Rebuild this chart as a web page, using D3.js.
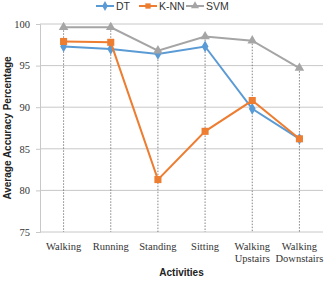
<html>
<head>
<script src="https://d3js.org/d3.v7.min.js"></script>
<style>
body { margin: 0; background: #fff; }
</style>
</head>
<body>
<div id="chart"></div>
<script>
const activities = ["Walking", "Running", "Standing", "Sitting", "Walking Upstairs", "Walking Downstairs"];
const dtValues = [97.3, 97.0, 96.4, 97.3, 89.8, 86.2];
const knnValues = [97.9, 97.8, 81.3, 87.1, 90.8, 86.2];
const svmValues = [99.6, 99.6, 96.8, 98.5, 98.0, 94.7];
const yTicks = [75, 80, 85, 90, 95, 100];

const series = [
  {name: "DT", values: dtValues, color: "#5b9bd5", symbol: d3.symbolDiamond},
  {name: "K-NN", values: knnValues, color: "#ed7d31", symbol: d3.symbolSquare},
  {name: "SVM", values: svmValues, color: "#a5a5a5", symbol: d3.symbolTriangle}
];

const W = 330, H = 282;
const margin = {top: 24, right: 7, bottom: 50, left: 40};
const width = W - margin.left - margin.right,
      height = H - margin.top - margin.bottom;

const svg = d3.select("#chart").append("svg")
    .attr("width", W).attr("height", H);
const g = svg.append("g")
    .attr("transform", "translate(" + margin.left + "," + margin.top + ")");

const x = d3.scaleBand().domain(activities).range([0, width]);
const y = d3.scaleLinear().domain([75, 100]).range([height, 0]);

// gridlines
g.append("g").selectAll("line").data(yTicks).enter().append("line")
    .attr("x1", 0).attr("x2", width)
    .attr("y1", d => y(d)).attr("y2", d => y(d))
    .attr("stroke", "#c8c8c8").attr("stroke-width", 1);

// left axis
const yAxis = g.append("g")
    .call(d3.axisLeft(y).tickValues(yTicks).tickSize(4).tickPadding(6));
yAxis.select(".domain").attr("stroke", "#c8c8c8");
yAxis.selectAll(".tick line").attr("stroke", "#c8c8c8");
yAxis.selectAll("text")
    .attr("font-family", "Liberation Serif, Times New Roman, serif")
    .attr("font-size", 10.5).attr("fill", "#333");

// drop lines
g.append("g").selectAll("line").data(activities).enter().append("line")
    .attr("x1", d => x(d) + x.bandwidth() / 2)
    .attr("x2", d => x(d) + x.bandwidth() / 2)
    .attr("y1", (d, i) => y(d3.max(series, s => s.values[i])))
    .attr("y2", height)
    .attr("stroke", "#666").attr("stroke-width", 0.8)
    .attr("stroke-dasharray", "1.5,1.5");

// x labels
const xl = g.append("g").selectAll("text").data(activities).enter().append("text")
    .attr("x", d => x(d) + x.bandwidth() / 2)
    .attr("y", height + 18)
    .attr("text-anchor", "middle")
    .attr("font-family", "Liberation Serif, Times New Roman, serif")
    .attr("font-size", 10.5).attr("fill", "#333");
xl.each(function(d) {
  const words = d.split(" ");
  const t = d3.select(this);
  words.forEach((w, k) => {
    t.append("tspan").attr("x", x(d) + x.bandwidth() / 2)
      .attr("dy", k === 0 ? 0 : 12).text(w);
  });
});

// lines and markers
const line = d3.line()
    .x((d, i) => x(activities[i]) + x.bandwidth() / 2)
    .y(d => y(d));

series.forEach(s => {
  g.append("path").datum(s.values)
    .attr("d", line)
    .attr("fill", "none").attr("stroke", s.color).attr("stroke-width", 2);
  g.append("g").selectAll("path").data(s.values).enter().append("path")
    .attr("d", d3.symbol().type(s.symbol).size(s.name === "K-NN" ? 50 : 40))
    .attr("transform", (d, i) => "translate(" + (x(activities[i]) + x.bandwidth() / 2) + "," + y(d) + ")")
    .attr("fill", s.color);
});

// axis titles
svg.append("text")
    .attr("transform", "translate(11," + (margin.top + height / 2) + ") rotate(-90)")
    .attr("text-anchor", "middle")
    .attr("font-family", "Liberation Sans, Arial, sans-serif")
    .attr("font-weight", "bold").attr("font-size", 10).attr("fill", "#222")
    .text("Average Accuracy Percentage");

svg.append("text")
    .attr("x", margin.left + width / 2).attr("y", 276)
    .attr("text-anchor", "middle")
    .attr("font-family", "Liberation Sans, Arial, sans-serif")
    .attr("font-weight", "bold").attr("font-size", 10).attr("fill", "#222")
    .text("Activities");

// legend
const legendX = [96, 139, 186];
const legend = svg.append("g");
series.forEach((s, i) => {
  const lg = legend.append("g").attr("transform", "translate(" + legendX[i] + ",6)");
  lg.append("line").attr("x1", 0).attr("x2", 18).attr("y1", 0).attr("y2", 0)
    .attr("stroke", s.color).attr("stroke-width", 2);
  lg.append("path").attr("d", d3.symbol().type(s.symbol).size(28))
    .attr("transform", "translate(9,0)").attr("fill", s.color);
  lg.append("text").attr("x", 20).attr("y", 4)
    .attr("font-family", "Liberation Sans, Arial, sans-serif")
    .attr("font-size", 10.5).attr("fill", "#333").text(s.name);
});
</script>
</body>
</html>
